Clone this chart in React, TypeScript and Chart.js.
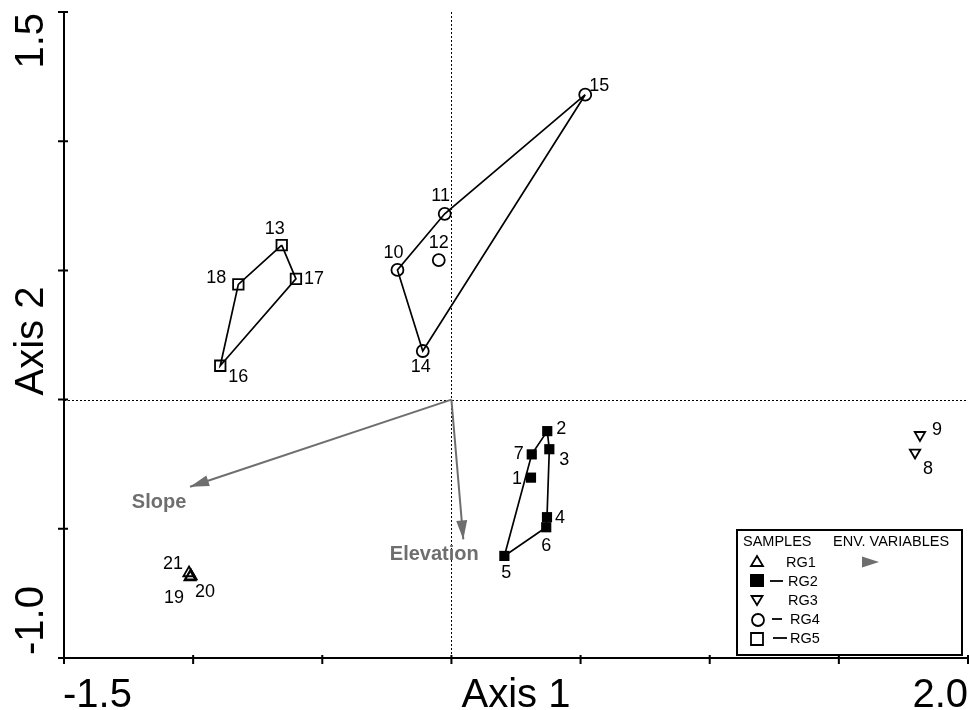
import { useEffect, useRef } from "react";
import { Chart, registerables } from "chart.js";

Chart.register(...registerables);

// ---- data ----
const sampleNumbers = [1, 2, 3, 4, 5, 6, 7, 8, 9, 10, 11, 12, 13, 14, 15, 16, 17, 18, 19, 20, 21];
const axis1Scores = [0.308, 0.371, 0.379, 0.37, 0.205, 0.367, 0.311, 1.795, 1.814, -0.209, -0.026, -0.049, -0.657, -0.111, 0.518, -0.895, -0.602, -0.825, -1.012, -1.008, -1.016];
const axis2Scores = [-0.302, -0.122, -0.192, -0.455, -0.605, -0.494, -0.212, -0.205, -0.137, 0.502, 0.719, 0.54, 0.598, 0.188, 1.18, 0.131, 0.467, 0.446, -0.687, -0.683, -0.671];
const sampleGroups = ["RG2", "RG2", "RG2", "RG2", "RG2", "RG2", "RG2", "RG3", "RG3", "RG4", "RG4", "RG4", "RG5", "RG4", "RG4", "RG5", "RG5", "RG5", "RG1", "RG1", "RG1"];

const groupNames = ["RG1", "RG2", "RG3", "RG4", "RG5"];
const rg2Hull = [2, 3, 4, 6, 5, 7, 2];
const rg4Hull = [15, 11, 10, 14, 15];
const rg5Hull = [13, 17, 16, 18, 13];

const envNames = ["Slope", "Elevation"];
const envAxis1 = [-1.012, 0.046];
const envAxis2 = [-0.337, -0.541];

const xTickValues = [-1.5, -1.0, -0.5, 0, 0.5, 1.0, 1.5, 2.0];
const yTickValues = [-1.0, -0.5, 0, 0.5, 1.0, 1.5];
const xEndLabels = ["-1.5", "2.0"];
const yEndLabels = ["-1.0", "1.5"];
const xTitle = "Axis 1";
const yTitle = "Axis 2";

// ---- styling (label offsets in px, not data) ----
const labelOffsets: Record<number, [number, number]> = {
  1: [-14, 0], 2: [14, -3], 3: [15, 10], 4: [13, 0], 5: [2, 16], 6: [0, 18], 7: [-13, -1],
  8: [13, 15], 9: [17, -6], 10: [-4, -18], 11: [-4, -19], 12: [0, -18], 13: [-7, -17],
  14: [-2, 15], 15: [14, -10], 16: [18, 10], 17: [18, -1], 18: [-22, -7], 19: [-16, 20],
  20: [14, 15], 21: [-16, -10],
};
const envLabelOffsets: [number, number][] = [[-31, 16], [-29, 15]];
const GRAY = "#6e6e6e";
const FONT = "'Liberation Sans', Arial, sans-serif";

function pointsOf(group: string) {
  const pts: { x: number; y: number }[] = [];
  sampleNumbers.forEach((n, i) => {
    if (sampleGroups[i] === group) pts.push({ x: axis1Scores[i], y: axis2Scores[i] });
  });
  return pts;
}
function hullOf(order: number[]) {
  return order.map((n) => {
    const i = sampleNumbers.indexOf(n);
    return { x: axis1Scores[i], y: axis2Scores[i] };
  });
}

const overlay = {
  id: "overlay",
  beforeDatasetsDraw(chart: any) {
    const { ctx, chartArea: a, scales } = chart;
    const x = scales.x, y = scales.y;
    ctx.save();
    const x0 = Math.round(x.getPixelForValue(0)) + 0.5;
    const y0 = Math.round(y.getPixelForValue(0)) + 0.5;
    ctx.strokeStyle = "#000";
    ctx.lineWidth = 1;
    ctx.setLineDash([2, 2]);
    ctx.beginPath();
    ctx.moveTo(x0, a.top);
    ctx.lineTo(x0, a.bottom);
    ctx.moveTo(a.left, y0);
    ctx.lineTo(a.right, y0);
    ctx.stroke();
    ctx.setLineDash([]);
    // axes
    ctx.lineWidth = 2;
    ctx.beginPath();
    ctx.moveTo(a.left - 6, a.bottom);
    ctx.lineTo(a.right, a.bottom);
    ctx.moveTo(a.left, a.top);
    ctx.lineTo(a.left, a.bottom + 5);
    xTickValues.forEach((v) => {
      const px = x.getPixelForValue(v);
      ctx.moveTo(px, a.bottom - 3);
      ctx.lineTo(px, a.bottom + 6);
    });
    yTickValues.forEach((v) => {
      const py = y.getPixelForValue(v);
      ctx.moveTo(a.left - 6, py);
      ctx.lineTo(a.left + 4, py);
    });
    ctx.stroke();
    ctx.restore();
  },
  afterDatasetsDraw(chart: any) {
    const { ctx, chartArea: a, scales } = chart;
    const x = scales.x, y = scales.y;
    ctx.save();
    // arrowheads
    const ox = x.getPixelForValue(0), oy = y.getPixelForValue(0);
    envNames.forEach((name, i) => {
      const tx = x.getPixelForValue(envAxis1[i]);
      const ty = y.getPixelForValue(envAxis2[i]);
      const ang = Math.atan2(ty - oy, tx - ox);
      const L = 19, W = 5.5;
      ctx.fillStyle = GRAY;
      ctx.beginPath();
      ctx.moveTo(tx, ty);
      ctx.lineTo(tx - L * Math.cos(ang) + W * Math.sin(ang), ty - L * Math.sin(ang) - W * Math.cos(ang));
      ctx.lineTo(tx - L * Math.cos(ang) - W * Math.sin(ang), ty - L * Math.sin(ang) + W * Math.cos(ang));
      ctx.closePath();
      ctx.fill();
      ctx.font = `bold 20px ${FONT}`;
      ctx.textAlign = "center";
      ctx.textBaseline = "middle";
      ctx.fillText(name, tx + envLabelOffsets[i][0], ty + envLabelOffsets[i][1]);
    });
    // sample labels
    ctx.fillStyle = "#000";
    ctx.font = `18px ${FONT}`;
    ctx.textAlign = "center";
    ctx.textBaseline = "middle";
    sampleNumbers.forEach((n, i) => {
      const px = x.getPixelForValue(axis1Scores[i]);
      const py = y.getPixelForValue(axis2Scores[i]);
      const off = labelOffsets[n] || [0, -16];
      ctx.fillText(String(n), px + off[0], py + off[1] + 1);
    });
    // tick end labels
    ctx.font = `40px ${FONT}`;
    ctx.textBaseline = "alphabetic";
    ctx.textAlign = "left";
    ctx.fillText(xEndLabels[0], a.left - 1, 707);
    ctx.textAlign = "right";
    ctx.fillText(xEndLabels[1], a.right, 707);
    ctx.textAlign = "center";
    ctx.fillText(xTitle, (a.left + a.right) / 2, 707);
    // y labels rotated
    ctx.save();
    ctx.translate(43, 0);
    ctx.rotate(-Math.PI / 2);
    ctx.textAlign = "left";
    ctx.fillText(yEndLabels[0], -a.bottom + 3, 0);
    ctx.textAlign = "right";
    ctx.fillText(yEndLabels[1], -a.top - 1, 0);
    ctx.textAlign = "center";
    ctx.fillText(yTitle, -341, 0);
    ctx.restore();
    // legend box
    const L = 737, T = 530, R = 962, B = 655;
    ctx.fillStyle = "#fff";
    ctx.fillRect(L, T, R - L, B - T);
    ctx.strokeStyle = "#000";
    ctx.lineWidth = 2;
    ctx.strokeRect(L, T, R - L, B - T);
    ctx.fillStyle = "#000";
    ctx.font = `14.5px ${FONT}`;
    ctx.textAlign = "left";
    ctx.textBaseline = "middle";
    ctx.fillText("SAMPLES", 743, 542);
    ctx.fillText("ENV. VARIABLES", 833, 542);
    const rows = [562, 581, 600, 619, 638];
    const textX = [786, 788, 788, 790, 790];
    const dash: (number[] | null)[] = [null, [770, 783], null, [772, 782], [773, 787]];
    ctx.lineWidth = 1.8;
    groupNames.forEach((g, i) => {
      const cy = rows[i];
      const cx = 757;
      ctx.strokeStyle = "#000";
      ctx.fillStyle = "#000";
      ctx.beginPath();
      if (i === 0) {
        ctx.moveTo(cx, cy - 6);
        ctx.lineTo(cx + 6, cy + 4);
        ctx.lineTo(cx - 6, cy + 4);
        ctx.closePath();
        ctx.stroke();
      } else if (i === 1) {
        ctx.fillRect(cx - 7, cy - 7, 14, 13);
      } else if (i === 2) {
        ctx.moveTo(cx - 5.5, cy - 4);
        ctx.lineTo(cx + 5.5, cy - 4);
        ctx.lineTo(cx, cy + 5);
        ctx.closePath();
        ctx.stroke();
      } else if (i === 3) {
        ctx.arc(cx + 1, cy + 1, 6, 0, Math.PI * 2);
        ctx.stroke();
      } else {
        ctx.rect(cx - 6, cy - 5, 12, 12);
        ctx.stroke();
      }
      const d = dash[i];
      if (d) {
        ctx.beginPath();
        ctx.moveTo(d[0], cy);
        ctx.lineTo(d[1], cy);
        ctx.stroke();
      }
      ctx.fillText(g, textX[i], cy + 1);
    });
    // env arrow symbol
    ctx.fillStyle = GRAY;
    ctx.beginPath();
    ctx.moveTo(862, 556.5);
    ctx.lineTo(879, 562);
    ctx.lineTo(862, 567.5);
    ctx.closePath();
    ctx.fill();
    ctx.restore();
  },
};

export default function App() {
  const ref = useRef<HTMLCanvasElement | null>(null);
  useEffect(() => {
    if (!ref.current) return;
    const open = "rgba(0,0,0,0)";
    const lineDs = (data: any[], color: string, width: number) => ({
      data,
      showLine: true,
      borderColor: color,
      borderWidth: width,
      pointRadius: 0,
      fill: false,
      tension: 0,
    });
    const chart = new Chart(ref.current, {
      type: "scatter",
      data: {
        datasets: [
          { label: "RG1", data: pointsOf("RG1"), pointStyle: "triangle", pointRadius: 6.5, pointBorderWidth: 1.8, pointBorderColor: "#000", pointBackgroundColor: open },
          { label: "RG2", data: pointsOf("RG2"), pointStyle: "rect", pointRadius: 7.2, pointBorderWidth: 0, pointBorderColor: "#000", pointBackgroundColor: "#000" },
          { label: "RG3", data: pointsOf("RG3"), pointStyle: "triangle", rotation: 180, pointRadius: 6, pointBorderWidth: 1.8, pointBorderColor: "#000", pointBackgroundColor: open },
          { label: "RG4", data: pointsOf("RG4"), pointStyle: "circle", pointRadius: 6, pointBorderWidth: 1.8, pointBorderColor: "#000", pointBackgroundColor: open },
          { label: "RG5", data: pointsOf("RG5"), pointStyle: "rect", pointRadius: 7.4, pointBorderWidth: 1.8, pointBorderColor: "#000", pointBackgroundColor: open },
          lineDs(hullOf(rg2Hull), "#000", 1.7),
          lineDs(hullOf(rg4Hull), "#000", 1.7),
          lineDs(hullOf(rg5Hull), "#000", 1.7),
          ...envNames.map((_, i) => lineDs([{ x: 0, y: 0 }, { x: envAxis1[i], y: envAxis2[i] }], GRAY, 2)),
        ] as any,
      },
      options: {
        animation: false,
        responsive: true,
        maintainAspectRatio: false,
        devicePixelRatio: 1,
        layout: { autoPadding: false, padding: { left: 64, right: 1, top: 12, bottom: 52 } },
        plugins: { legend: { display: false }, tooltip: { enabled: false } },
        scales: {
          x: { type: "linear", min: -1.5, max: 2.0, display: false },
          y: { type: "linear", min: -1.0, max: 1.5, display: false },
        },
      },
      plugins: [overlay],
    });
    return () => chart.destroy();
  }, []);
  return (
    <div style={{ position: "fixed", left: 0, top: 0, width: 969, height: 710, background: "#fff", overflow: "hidden" }}>
      <canvas ref={ref} style={{ display: "block" }} />
    </div>
  );
}
